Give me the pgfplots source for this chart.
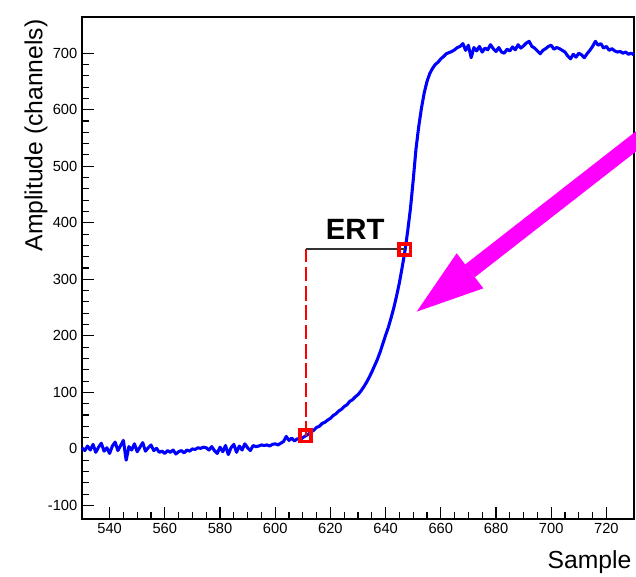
\documentclass[border=0pt]{standalone}
\usepackage{pgfplots}
\pgfplotsset{compat=1.18}
\usepackage{fontspec}
\setmainfont{Liberation Sans}
\definecolor{sigblue}{RGB}{0,0,255}
\definecolor{arrmag}{RGB}{255,0,255}
\definecolor{mkred}{RGB}{255,0,0}
\begin{document}
\begin{tikzpicture}
\begin{axis}[
  at={(0pt,0pt)}, anchor=south west,
  scale only axis, width=414pt, height=376.5pt,
  xmin=530, xmax=730, ymin=-124, ymax=764,
  xtick={540,560,...,720}, minor x tick num=3,
  ytick={-100,0,...,700}, minor y tick num=4,
  tick align=inside, xtick pos=bottom, ytick pos=left,
  major tick length=9pt, minor tick length=5pt,
  tick style={black, line width=0.8pt},
  axis line style={line width=1pt},
  ticklabel style={font=\fontsize{11}{13}\selectfont},
  /pgf/number format/assume math mode=true,
  /pgf/number format/1000 sep={},
  clip=false,
]
\addplot[draw=sigblue, line width=2.3pt, line join=round] coordinates {
(530,2)(531,-3)(532,5)(533,-2)(534,8)(535,-6)(536,3)(537,10)(538,-4)(539,2)
(540,-8)(541,5)(542,12)(543,-3)(544,6)(545,15)(546,-20)(547,4)(548,-2)(549,9)
(550,-5)(551,3)(552,11)(553,-4)(554,2)(555,7)(556,-3)(557,1)(558,-6)(559,-4)
(560,-8)(561,-3)(562,-6)(563,-2)(564,-9)(565,-5)(566,-3)(567,-7)(568,-2)(569,-4)
(570,0)(571,-1)(572,2)(573,1)(574,3)(575,2)(576,-2)(577,4)(578,-3)(579,-8)
(580,3)(581,-5)(582,6)(583,-10)(584,2)(585,8)(586,-6)(587,5)(588,-2)(589,9)
(590,2)(591,-3)(592,6)(593,4)(594,5)(595,7)(596,6)(597,7)(598,5)(599,8)
(600,9)(601,7)(602,10)(603,13)(604,22)(605,15)(606,19)(607,14)(608,18)(609,16)
(610,20)(611,23)(612,26)(613,30)(614,33)(615,38)(616,40)(617,45)(618,47)(619,51)
(620,54)(621,59)(622,62)(623,67)(624,70)(625,75)(626,78)(627,84)(628,87)(629,92)
(630,96)(631,102)(632,109)(633,117)(634,126)(635,136)(636,147)(637,158)(638,171)(639,186)
(640,201)(641,215)(642,232)(643,250)(644,271)(645,294)(646,321)(647,350)(648,385)(649,425)
(650,475)(651,530)(652,570)(653,603)(654,630)(655,650)(656,664)(657,673)(658,680)(659,684)
(660,690)(661,694)(662,699)(663,701)(664,703)(665,706)(666,710)(667,712)(668,717)(669,705)
(670,714)(671,692)(672,710)(673,704)(674,712)(675,702)(676,709)(677,706)(678,715)(679,708)
(680,703)(681,710)(682,702)(683,700)(684,707)(685,704)(686,711)(687,706)(688,715)(689,709)
(690,713)(691,718)(692,721)(693,712)(694,709)(695,704)(696,699)(697,705)(698,708)(699,712)
(700,714)(701,707)(702,710)(703,708)(704,705)(705,702)(706,695)(707,690)(708,698)(709,693)
(710,700)(711,697)(712,692)(713,699)(714,705)(715,712)(716,721)(717,714)(718,717)(719,709)
(720,712)(721,705)(722,708)(723,704)(724,702)(725,703)(726,700)(727,702)(728,698)(729,700)
(730,697)
};
\addplot[draw=mkred, line width=1.5pt, dash pattern=on 11pt off 3.5pt] coordinates {(611,23)(611,353)};
\addplot[draw=black!80, line width=1.5pt] coordinates {(611,353)(647,353)};
\addplot[only marks, mark=square, mark size=4.5pt, color=mkred, line width=2.2pt, every mark/.append style={solid, draw=mkred, line width=2.2pt}] coordinates {(611,23)(647,353)};
\addplot[only marks, mark=square, mark size=3.6pt, color=mkred, line width=1.5pt] coordinates {(611,23)(647,353)};
\node[font=\bfseries\fontsize{22}{24}\selectfont] at (axis cs:629,388) {ERT};
\end{axis}
% labels
\node[anchor=east, font=\fontsize{18.5}{20}\selectfont] at (415.5pt,-32pt) {Sample};
\node[rotate=90, anchor=east, font=\fontsize{18.5}{20}\selectfont] at (-34.5pt,378pt) {Amplitude (channels)};
% magenta arrow
\draw[arrmag, line width=12pt] (291pt,186.1pt) -- (440pt,302.3pt);
\fill[arrmag] (251pt,155.5pt) -- (281pt,199.3pt) -- (301pt,173pt) -- cycle;
\pgfresetboundingbox
\path[use as bounding box] (-61.5pt,-43.5pt) rectangle (415.5pt,389.25pt);
\end{tikzpicture}
\end{document}
